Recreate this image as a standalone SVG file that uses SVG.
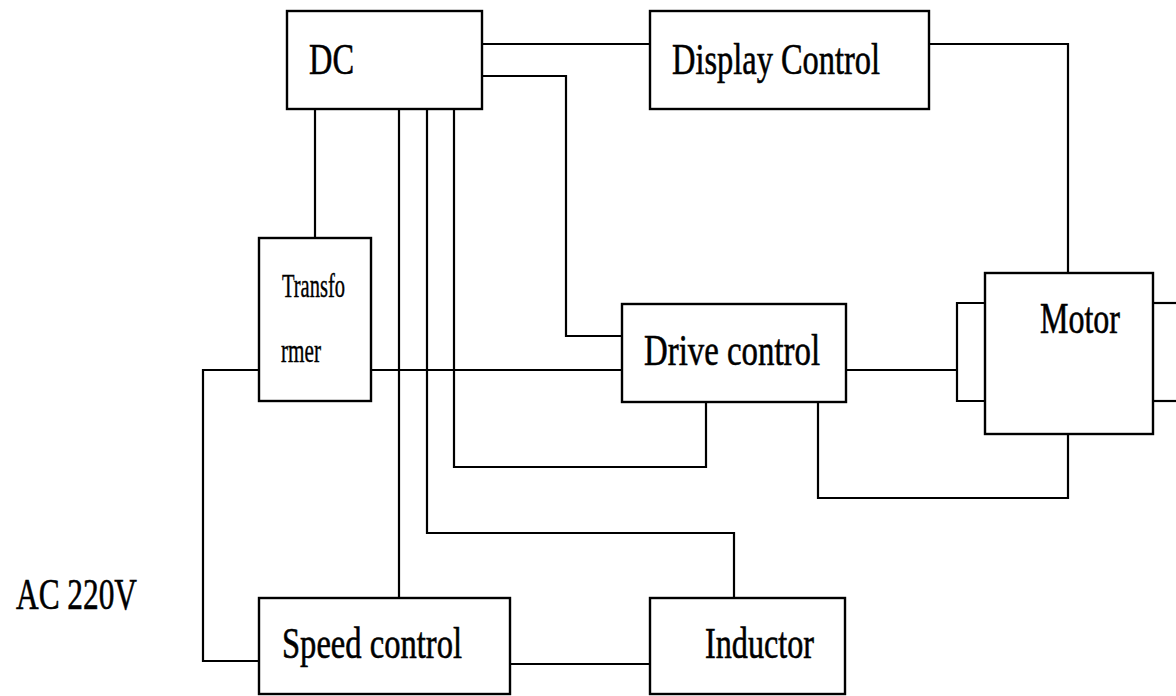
<svg xmlns="http://www.w3.org/2000/svg" width="1176" height="696" viewBox="0 0 1176 696">
<style>
.box{fill:#fff;stroke:#000;stroke-width:2.4}
.ln{fill:none;stroke:#000;stroke-width:2.2}
.t{font-family:"Liberation Serif","Times New Roman",serif;fill:#000;stroke:#000;stroke-width:0.6;font-size:45px}
.s{font-family:"Liberation Serif","Times New Roman",serif;fill:#000;stroke:#000;stroke-width:0.4;font-size:33px}
</style>
<rect width="1176" height="696" fill="#fff"/>
<g id="connectors">
<polyline class="ln" points="482,44 650,44"/>
<polyline class="ln" points="929,44 1068,44 1068,273"/>
<polyline class="ln" points="482,76 566,76 566,336 622,336"/>
<polyline class="ln" points="315,109 315,238"/>
<polyline class="ln" points="399,109 399,598"/>
<polyline class="ln" points="427,109 427,533 734,533 734,598"/>
<polyline class="ln" points="454,109 454,467 706,467 706,402"/>
<polyline class="ln" points="259,370 203,370 203,661 259,661"/>
<polyline class="ln" points="371,370 622,370"/>
<polyline class="ln" points="510,664 650,664"/>
<polyline class="ln" points="818,402 818,498 1068,498 1068,434"/>
<polyline class="ln" points="846,370 957,370"/>
<polyline class="ln" points="985,303 957,303 957,401 985,401"/>
<polyline class="ln" points="1153,303 1176,303"/>
<polyline class="ln" points="1153,401 1176,401"/>
</g>
<g id="dc">
<rect class="box" x="287" y="11" width="195" height="98"/>
<text class="t" x="309" y="74" textLength="45" lengthAdjust="spacingAndGlyphs">DC</text>
</g>
<g id="display-control">
<rect class="box" x="650" y="11" width="279" height="98"/>
<text class="t" x="672" y="74" textLength="208" lengthAdjust="spacingAndGlyphs">Display Control</text>
</g>
<g id="transformer">
<rect class="box" x="259" y="238" width="112" height="163"/>
<text class="s" x="282" y="297" textLength="63" lengthAdjust="spacingAndGlyphs">Transfo</text>
<text class="s" x="281" y="362" textLength="40" lengthAdjust="spacingAndGlyphs">rmer</text>
</g>
<g id="drive-control">
<rect class="box" x="622" y="304" width="224" height="98"/>
<text class="t" x="644" y="365" textLength="176" lengthAdjust="spacingAndGlyphs">Drive control</text>
</g>
<g id="motor">
<rect class="box" x="985" y="273" width="168" height="161"/>
<text class="t" x="1040" y="333" textLength="80" lengthAdjust="spacingAndGlyphs">Motor</text>
</g>
<g id="speed-control">
<rect class="box" x="259" y="598" width="251" height="96"/>
<text class="t" x="282" y="658" textLength="180" lengthAdjust="spacingAndGlyphs">Speed control</text>
</g>
<g id="inductor">
<rect class="box" x="650" y="598" width="195" height="96"/>
<text class="t" x="705" y="658" textLength="109" lengthAdjust="spacingAndGlyphs">Inductor</text>
</g>
<g id="ac-220v">
<text class="t" x="16" y="609" font-size="44" textLength="121" lengthAdjust="spacingAndGlyphs">AC 220V</text>
</g>
</svg>
